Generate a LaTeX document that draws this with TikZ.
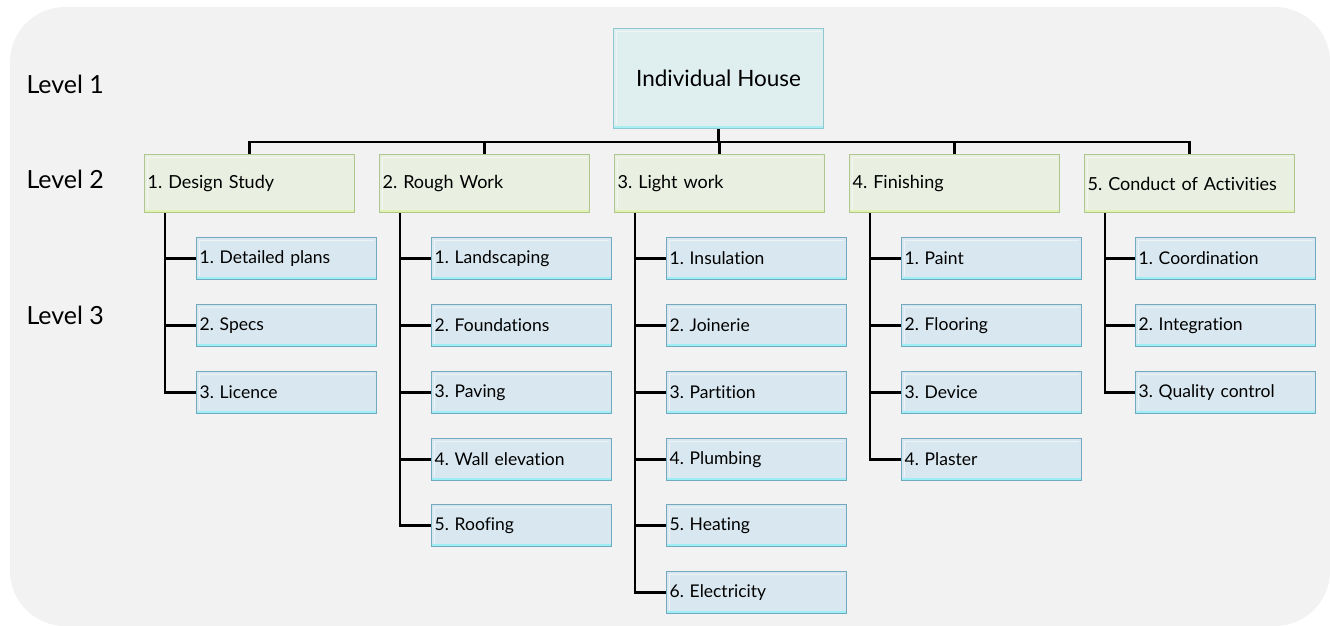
\documentclass[tikz,border=0pt]{standalone}
\usepackage{fontspec}
\setmainfont[Ligatures=NoCommon]{Lato}
\frenchspacing
\definecolor{bgc}{HTML}{F2F2F2}
\definecolor{lonefill}{HTML}{DFEEEE}
\definecolor{lonedraw}{HTML}{8FC8CE}
\definecolor{lonebot}{HTML}{A8EEF2}
\definecolor{ltwofill}{HTML}{E9EFE1}
\definecolor{ltwodraw}{HTML}{AFC78E}
\definecolor{ltwobot}{HTML}{E2F2B0}
\definecolor{lthreefill}{HTML}{D9E8F0}
\definecolor{lthreedraw}{HTML}{72A9BF}
\definecolor{lthreebot}{HTML}{9EEEF5}
\begin{document}
\begin{tikzpicture}[x=1pt,y=-1pt,
  boxbase/.style={anchor=north west, line width=1.2pt, inner xsep=3pt, inner ysep=0pt},
  bevel/.style={path picture={
      \draw[white, opacity=0.5, line width=1.5pt] ([xshift=3pt,yshift=4pt]path picture bounding box.south west) -- ([xshift=3pt,yshift=-3pt]path picture bounding box.north west) -- ([xshift=-3pt,yshift=-3pt]path picture bounding box.north east);
      \draw[#1, line width=2.5pt] ([yshift=1.8pt]path picture bounding box.south west) -- ([yshift=1.8pt]path picture bounding box.south east);}},
  lonebox/.style={boxbase, draw=lonedraw, fill=lonefill, bevel=lonebot, minimum width=210pt, minimum height=100pt, font=\fontsize{22.5}{26}\selectfont},
  ltwobox/.style={boxbase, draw=ltwodraw, fill=ltwofill, bevel=ltwobot, minimum width=210pt, minimum height=58pt, text width=204pt, align=left, font=\fontsize{18}{21}\selectfont},
  lthreebox/.style={boxbase, draw=lthreedraw, fill=lthreefill, bevel=lthreebot, minimum width=180pt, minimum height=42pt, text width=174pt, align=left, font=\fontsize{17.5}{21}\selectfont},
  lvl/.style={anchor=west, font=\fontsize{25}{29}\selectfont},
  conn/.style={line width=2.4pt, black}
]
\useasboundingbox (0,0) rectangle (1330,626);
\fill[bgc, rounded corners=55pt] (10,7) rectangle (1330,626);

\node[lvl] (lv1) at (23,84) {Level 1};
\node[lvl] (lv2) at (23,179) {Level 2};
\node[lvl] (lv3) at (23,315) {Level 3};

\node[lonebox] (top) at (613,28) {Individual House};

\node[ltwobox] (d1) at (144,154) {1. Design Study};
\node[ltwobox] (d2) at (379,154) {2. Rough Work};
\node[ltwobox] (d3) at (614,154) {3. Light work};
\node[ltwobox] (d4) at (849,154) {4. Finishing};
\node[ltwobox] (d5) at (1084,154) {5. Conduct of Activities};

\coordinate (bus) at (718,142);
\draw[conn] (top.south) -- (top.south |- bus);
\draw[conn] (d1.north) -- (d1.north |- bus) -- (d5.north |- bus) -- (d5.north);
\draw[conn] (d2.north) -- (d2.north |- bus);
\draw[conn] (d3.north) -- (d3.north |- bus);
\draw[conn] (d4.north) -- (d4.north |- bus);

% Design Study
\node[lthreebox] (a1) at (196,237) {1. Detailed plans};
\node[lthreebox] (a2) at (196,304) {2. Specs};
\node[lthreebox] (a3) at (196,371) {3. Licence};
% Rough Work
\node[lthreebox] (b1) at (431,237) {1. Landscaping};
\node[lthreebox] (b2) at (431,304) {2. Foundations};
\node[lthreebox] (b3) at (431,371) {3. Paving};
\node[lthreebox] (b4) at (431,438) {4. Wall elevation};
\node[lthreebox] (b5) at (431,504) {5. Roofing};
% Light work
\node[lthreebox] (c1) at (666,237) {1. Insulation};
\node[lthreebox] (c2) at (666,304) {2. Joinerie};
\node[lthreebox] (c3) at (666,371) {3. Partition};
\node[lthreebox] (c4) at (666,438) {4. Plumbing};
\node[lthreebox] (c5) at (666,504) {5. Heating};
\node[lthreebox] (c6) at (666,571) {6. Electricity};
% Finishing
\node[lthreebox] (e1) at (901,237) {1. Paint};
\node[lthreebox] (e2) at (901,304) {2. Flooring};
\node[lthreebox] (e3) at (901,371) {3. Device};
\node[lthreebox] (e4) at (901,438) {4. Plaster};
% Conduct
\node[lthreebox] (f1) at (1135,237) {1. Coordination};
\node[lthreebox] (f2) at (1135,304) {2. Integration};
\node[lthreebox] (f3) at (1135,371) {3. Quality control};

\foreach \p/\kids in {d1/{a1,a2,a3}, d2/{b1,b2,b3,b4,b5}, d3/{c1,c2,c3,c4,c5,c6}, d4/{e1,e2,e3,e4}, d5/{f1,f2,f3}}{
  \foreach \k in \kids {
    \draw[conn] ([xshift=21pt]\p.south west) |- (\k.west);
  }
}
\end{tikzpicture}
\end{document}
